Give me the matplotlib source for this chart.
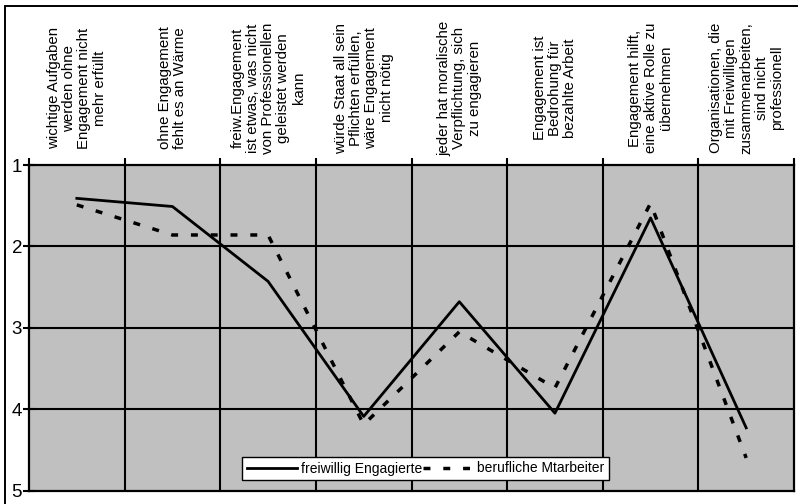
import numpy as np
import matplotlib
matplotlib.use("Agg")
import matplotlib.pyplot as plt
import matplotlib.transforms as mtransforms
from matplotlib.patches import Rectangle

plt.rcParams['font.family'] = ['Liberation Sans', 'DejaVu Sans']

categories = [
    "wichtige Aufgaben\nwerden ohne\nEngagement nicht\nmehr erfüllt",
    "ohne Engagement\nfehlt es an Wärme",
    "freiw.Engagement\nist etwas, was nicht\nvon Professionellen\ngeleistet werden\nkann",
    "würde Staat all sein\nPflichten erfüllen,\nwäre Engagement\nnicht nötig",
    "jeder hat moralische\nVerpflichtung, sich\nzu engagieren",
    "Engagement ist\nBedrohung für\nbezahlte Arbeit",
    "Engagement hilft,\neine aktive Rolle zu\nübernehmen",
    "Organisationen, die\nmit Freiwilligen\nzusammenarbeiten,\nsind nicht\nprofessionell",
]
freiwillig = [1.41, 1.51, 2.43, 4.09, 2.68, 4.05, 1.65, 4.23]
beruflich = [1.49, 1.86, 1.86, 4.19, 3.05, 3.74, 1.47, 4.60]
yticks = [1, 2, 3, 4, 5]

fig = plt.figure(figsize=(7.98, 5.04), dpi=100)
ax = fig.add_axes([29/798, 1 - 490.5/504, (794 - 29)/798, (490.5 - 165)/504])
ax.set_facecolor('#c0c0c0')

x = np.arange(1, len(categories) + 1)
ax.plot(x, freiwillig, color='black', lw=2.0, label='freiwillig Engagierte', zorder=4)
ax.plot(x, beruflich, color='black', lw=2.5, dashes=(2, 3.7), dash_capstyle='butt',
        label='berufliche Mtarbeiter', zorder=3)

ax.set_xlim(0.5, len(categories) + 0.5)
ax.set_ylim(5, 1)
ax.set_yticks(yticks)
ax.set_yticklabels([str(v) for v in yticks], fontsize=13.5)
ax.tick_params(axis='y', direction='inout', length=8, width=1.5, pad=1)

bounds = np.arange(0.5, len(categories) + 1)
ax.set_xticks(bounds)
ax.xaxis.tick_top()
ax.tick_params(axis='x', direction='out', length=5, width=1.5, labeltop=False, labelbottom=False)

for b in bounds[1:-1]:
    ax.axvline(b, color='black', lw=1.5, zorder=2)
for v in yticks[1:-1]:
    ax.axhline(v, color='black', lw=1.5, zorder=2)

for s in ax.spines.values():
    s.set_linewidth(1.6)
    s.set_color('black')

trans = mtransforms.blended_transform_factory(ax.transData, fig.transFigure)
for xi, lab in zip(x, categories):
    ax.text(xi, 1 - 88/504, lab, transform=trans, rotation=90, ha='center', va='center',
            multialignment='center', fontsize=10.8, linespacing=1.12)

leg = ax.legend(loc='center', bbox_to_anchor=(425.5/798, 1 - 468.5/504),
                bbox_transform=fig.transFigure, ncol=2, fontsize=10, frameon=True,
                fancybox=False, handlelength=3.6, handletextpad=0.25, columnspacing=0.1,
                borderpad=0.35, borderaxespad=0)
leg.get_frame().set_edgecolor('black')
leg.get_frame().set_linewidth(1.0)
leg.get_frame().set_alpha(1)

fig.patches.append(Rectangle((5/798, -0.1), 1.2, 1 - 6/504 + 0.1, transform=fig.transFigure,
                             fill=False, edgecolor='black', lw=1.4, clip_on=False))

fig.savefig('out.png', dpi=100)
